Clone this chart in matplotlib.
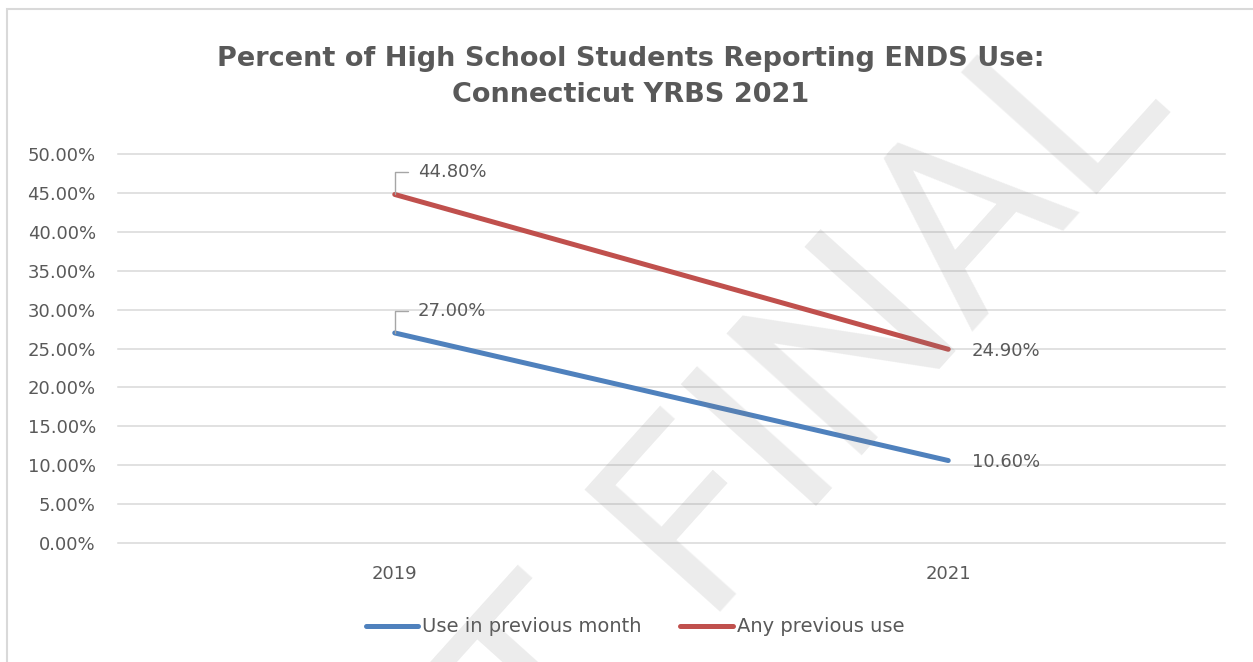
import matplotlib
matplotlib.use("Agg")
import matplotlib.pyplot as plt
from matplotlib.patches import Rectangle
from matplotlib.ticker import PercentFormatter

# data
years = ["2019", "2021"]
series_names = ["Use in previous month", "Any previous use"]
use_previous_month = [27.0, 10.6]
any_previous_use = [44.8, 24.9]
y_ticks = [0, 5, 10, 15, 20, 25, 30, 35, 40, 45, 50]

BLUE = "#4F81BD"
RED = "#C0504D"
TEXT = "#595959"
GRID = "#D9D9D9"

plt.rcParams["font.family"] = ["DejaVu Sans"]

fig = plt.figure(figsize=(12.53, 6.62), dpi=100)
ax = fig.add_axes([118 / 1253, 1 - 543 / 662, (1225 - 118) / 1253, (543 - 154) / 662])

x = list(range(len(years)))
l1, = ax.plot(x, use_previous_month, color=BLUE, lw=3.6, solid_capstyle="round",
              label=series_names[0], zorder=3)
l2, = ax.plot(x, any_previous_use, color=RED, lw=3.6, solid_capstyle="round",
              label=series_names[1], zorder=3)

ax.set_xlim(-0.5, len(years) - 0.5)
ax.set_ylim(0, 50)
ax.set_yticks(y_ticks)
ax.yaxis.set_major_formatter(PercentFormatter(decimals=2))
ax.set_xticks(x)
ax.set_xticklabels(years)
ax.tick_params(axis="both", length=0, labelsize=13, labelcolor=TEXT)
ax.tick_params(axis="y", pad=16)
ax.tick_params(axis="x", pad=16)
ax.grid(axis="y", color=GRID, lw=1.1)
ax.set_axisbelow(True)
for gl in ax.get_ygridlines():
    gl.set_clip_on(False)
for s in ax.spines.values():
    s.set_visible(False)

# data labels: first point with a leader line, last point plain
for vals in (use_previous_month, any_previous_use):
    ax.annotate(f"{vals[0]:.2f}%", xy=(x[0], vals[0]), xytext=(16.5, 16),
                textcoords="offset points", ha="left", va="center",
                fontsize=13, color=TEXT,
                arrowprops=dict(arrowstyle="-", color="#A6A6A6", lw=1.0,
                                connectionstyle="angle,angleA=0,angleB=90,rad=0",
                                relpos=(0, 0.5), shrinkA=5, shrinkB=0))
    ax.annotate(f"{vals[1]:.2f}%", xy=(x[1], vals[1]), xytext=(17, -1),
                textcoords="offset points", ha="left", va="center",
                fontsize=13, color=TEXT)

fig.text(631 / 1253, 1 - 77 / 662,
         "Percent of High School Students Reporting ENDS Use:\nConnecticut YRBS 2021",
         ha="center", va="center", fontsize=19.5, fontweight="bold", color=TEXT,
         linespacing=1.45)

fig.legend(handles=[l1, l2], loc="center", bbox_to_anchor=(635 / 1253, 1 - 627 / 662),
           ncol=2, frameon=False, fontsize=14, handlelength=2.7, handletextpad=0.2,
           columnspacing=2.0, labelcolor=TEXT)

# chart border
fig.patches.append(Rectangle((7 / 1253, -0.1), 1.2, 1.1 - 9 / 662, transform=fig.transFigure,
                             fill=False, edgecolor=GRID, lw=1.5))

# watermark
wm_font = ["Roboto", "DejaVu Sans"]
fig.text(700 / 1253, 1 - 612 / 662, "FINAL", rotation=48, rotation_mode="anchor",
         ha="left", va="baseline", fontsize=185, family=wm_font,
         color="#808080", alpha=0.15, zorder=10)
fig.text(652 / 1253, 1 - 666 / 662, "NOT", rotation=48, rotation_mode="anchor",
         ha="right", va="baseline", fontsize=185, family=wm_font,
         color="#808080", alpha=0.15, zorder=10)

fig.savefig("out.png", dpi=100)
